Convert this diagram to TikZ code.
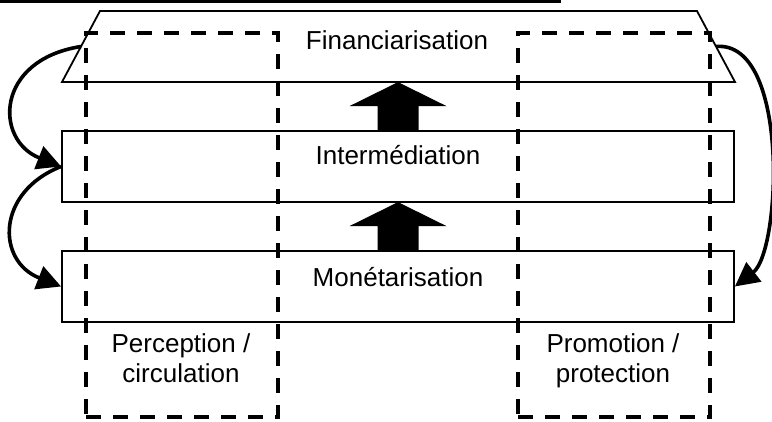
\documentclass[tikz,border=0pt]{standalone}
\usepackage{fontspec}
\setmainfont{Liberation Sans}
\usetikzlibrary{arrows.meta,calc}
\begin{document}
\begin{tikzpicture}[x=1pt,y=-1pt,
  layer/.style={draw, line width=1.8pt, minimum width=672pt, minimum height=71pt, inner sep=0pt},
  lbl/.style={font=\fontsize{26}{29.5}\selectfont, inner sep=0pt},
  zone/.style={draw, line width=4pt, dash pattern=on 15pt off 12pt, minimum width=192pt, minimum height=384pt, inner sep=0pt},
  flow/.style={line width=3.6pt, -{Triangle[length=24pt,width=24pt]}},
  lift/.style={fill=black}
]
\useasboundingbox (0,0) rectangle (772,422);
\fill (0,0) rectangle (561,3.4);

% top level: trapezium
\coordinate (ftl) at (100,11);
\coordinate (ftr) at (697,11);
\coordinate (fbr) at (735,82);
\coordinate (fbl) at (62,82);
\draw[line width=1.8pt] (ftl) -- (ftr) -- (fbr) -- (fbl) -- cycle;

% middle and bottom levels
\node[layer] (inter) at (398,166.5) {};
\node[layer] (mone) at (398,286.5) {};

\node[lbl, anchor=base] (tfin) at (397,50) {Financiarisation};
\node[lbl, anchor=base] (tint) at (398,164.3) {Intermédiation};
\node[lbl, anchor=base] (tmon) at (398,286.7) {Monétarisation};

% block arrows between levels
\fill[lift] ($(inter.north)+(-20.5,0)$) -- ++(0,-24) -- ++(-28,0) -- ++(48.5,-24)
  -- ++(48.5,24) -- ++(-28,0) -- ++(0,24) -- cycle;
\fill[lift] ($(mone.north)+(-20.5,0)$) -- ++(0,-24) -- ++(-28,0) -- ++(48.5,-24)
  -- ++(48.5,24) -- ++(-28,0) -- ++(0,24) -- cycle;

% dashed vertical zones
\node[zone] (zl) at (182,225) {};
\node[zone] (zr) at (614,225) {};
\node[lbl, align=center] (tperc) at (181,358) {Perception /\\circulation};
\node[lbl, align=center] (tprom) at (613,361) {Promotion /\\protection};

% curved flows
\coordinate (fl) at ($(ftl)!0.5!(fbl)$);
\coordinate (fr) at ($(ftr)!0.5!(fbr)$);
\draw[flow] (fl) .. controls +(-86,13.5) and +(-67,-26.5) .. (inter.west);
\draw[flow] (inter.west) .. controls +(-65,25.5) and +(-65,-25.5) .. (mone.west);
\draw[flow] (fr) .. controls +(74,-6.5) and +(46,-35.5) .. (mone.east);
\end{tikzpicture}
\end{document}
